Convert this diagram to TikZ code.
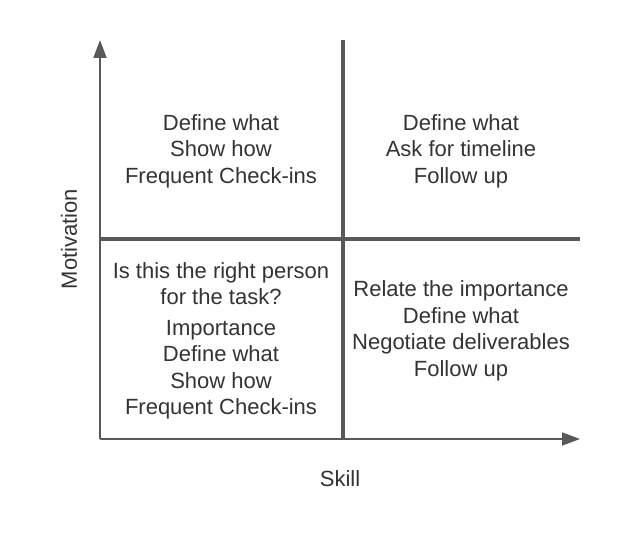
\documentclass[tikz,border=0pt]{standalone}
\usepackage{fontspec}
\setmainfont{Liberation Sans}
\usetikzlibrary{arrows.meta}
\definecolor{linegray}{HTML}{595959}
\definecolor{textgray}{HTML}{333333}
\begin{document}
\begin{tikzpicture}[x=1bp,y=-1bp]
		\tikzstyle{every node}+=[inner sep=0pt, text=textgray, font=\fontsize{22bp}{26.5bp}\selectfont]
		\tikzstyle{quadtext}=[align=center]
		\tikzstyle{axis}=[linegray, line width=2bp, -{Triangle[length=18bp,width=13bp]}]
		\tikzstyle{divider}=[linegray, line width=3.5bp]
		\useasboundingbox (0,0) rectangle (620,551);
		\coordinate (origin) at (100,439);
		\coordinate (ytop) at (100,40);
		\coordinate (xend) at (580,439);
		\coordinate (midtop) at (343,40);
		\coordinate (midbot) at (343,439);
		\coordinate (midleft) at (100,239);
		\coordinate (midright) at (580,239);
		\draw [divider] (midtop) -- (midbot);
		\draw [divider] (midleft) -- (midright);
		\draw [axis] (origin) -- (ytop);
		\draw [axis] (origin) -- (xend);
		\node [quadtext] (topleft) at (221,151) {Define what\\Show how\\Frequent Check-ins};
		\node [quadtext] (topright) at (461,151) {Define what\\Ask for timeline\\Follow up};
		\node [quadtext] (botleft) at (221,341) {Is this the right person\\for the task?\\[4bp]Importance\\Define what\\Show how\\Frequent Check-ins};
		\node [quadtext] (botright) at (461,331) {Relate the importance\\Define what\\Negotiate deliverables\\Follow up};
		\node [rotate=90] (motivation) at (69,239) {Motivation};
		\node (skill) at (340,479) {Skill};
	\end{tikzpicture}
\end{document}
